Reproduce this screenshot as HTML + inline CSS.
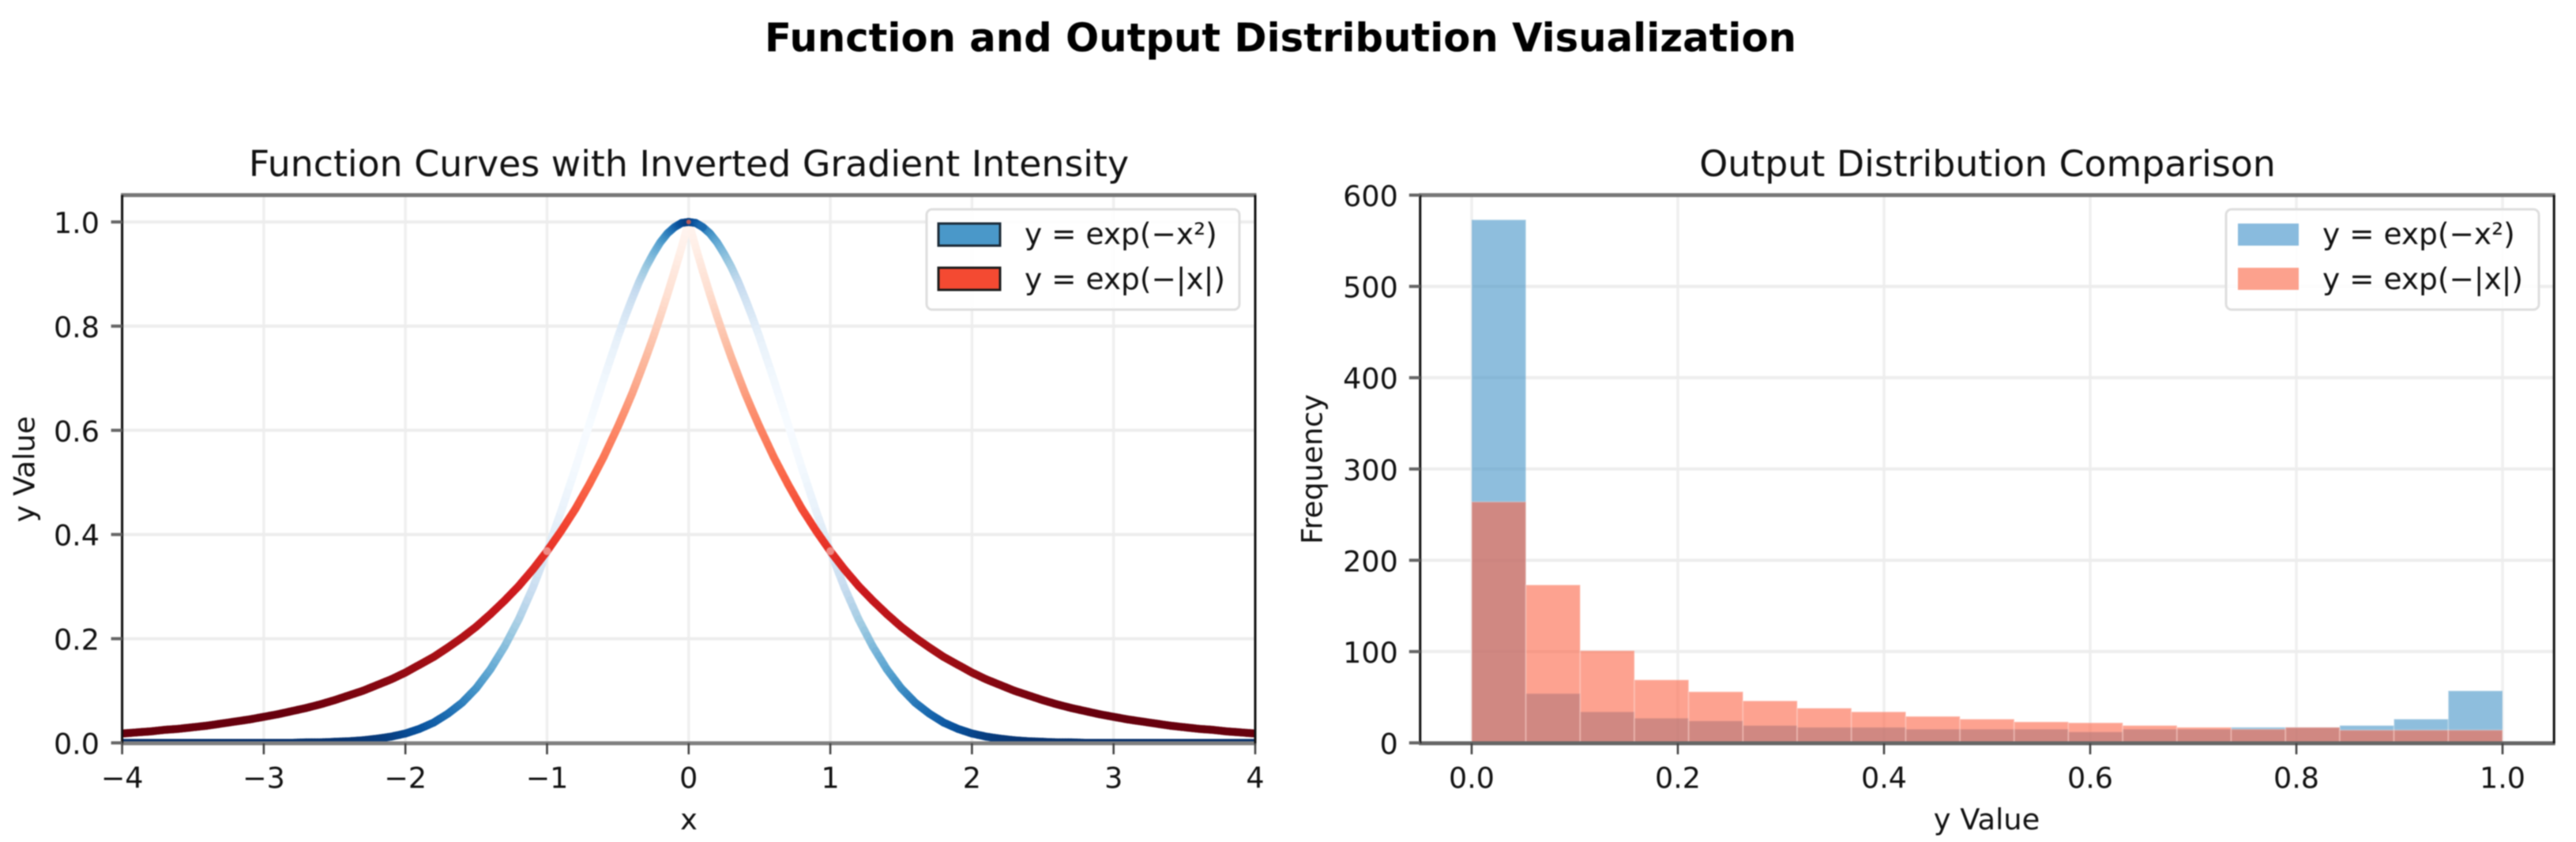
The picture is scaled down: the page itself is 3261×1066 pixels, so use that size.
<!DOCTYPE html>
<html lang="en">
<head>
<meta charset="utf-8">
<title>Function and Output Distribution Visualization</title>
<style>
html,body{margin:0;padding:0;background:#fff}
body{width:3261px;height:1066px;overflow:hidden}
svg{display:block;font-family:"DejaVu Sans","Liberation Sans",sans-serif;fill:#111;filter:blur(0.7px)}
</style>
</head>
<body>
<svg id="figure" xmlns="http://www.w3.org/2000/svg" width="3261" height="1066" viewBox="0 0 3261 1066">
<defs>
<clipPath id="clip-left"><rect x="154.6" y="247" width="1434.4" height="695"/></clipPath>
<clipPath id="clip-right"><rect x="1797.8" y="247" width="1435.4" height="695"/></clipPath>
</defs>
<rect width="3261" height="1066" fill="#fff"/>
<text x="1621" y="65" text-anchor="middle" font-size="49.7" font-weight="700" fill="#000">Function and Output Distribution Visualization</text>

<g id="left-axes">
<g id="left-grid"></g>
<g id="left-curves" clip-path="url(#clip-left)"></g>
<g id="left-frame"></g>
<g id="left-ticks"></g>
<text x="872" y="223" text-anchor="middle" font-size="45.8">Function Curves with Inverted Gradient Intensity</text>
<text x="872" y="1050" text-anchor="middle" font-size="36.8">x</text>
<text transform="translate(43.5 594) rotate(-90)" text-anchor="middle" font-size="36.8">y Value</text>
<g>
<rect x="1173" y="265" width="396" height="127" rx="7" fill="#fff" fill-opacity="0.85" stroke="#dedede" stroke-width="3"/>
<rect x="1188" y="283" width="78" height="28" fill="#4a98c9" stroke="#1c2b38" stroke-width="3"/>
<text x="1297" y="309" font-size="37.5">y = exp(−x²)</text>
<rect x="1188" y="339" width="78" height="28" fill="#f44a32" stroke="#1c1c1c" stroke-width="3"/>
<text x="1297" y="366" font-size="37.5">y = exp(−|x|)</text>
</g>
</g>

<g id="right-axes">
<g id="right-grid"></g>
<g id="right-bars" clip-path="url(#clip-right)"></g>
<g id="right-frame"></g>
<g id="right-ticks"></g>
<text x="2516" y="223" text-anchor="middle" font-size="45.8">Output Distribution Comparison</text>
<text x="2515" y="1050" text-anchor="middle" font-size="36.8">y Value</text>
<text transform="translate(1673.5 594) rotate(-90)" text-anchor="middle" font-size="36.8">Frequency</text>
<g>
<rect x="2818" y="265" width="396" height="127" rx="7" fill="#fff" fill-opacity="0.85" stroke="#dedede" stroke-width="3"/>
<rect x="2833" y="283" width="77" height="28" fill="#89bbde"/>
<text x="2940" y="309" font-size="37.5">y = exp(−x²)</text>
<rect x="2833" y="339" width="77" height="28" fill="#fca18d"/>
<text x="2940" y="366" font-size="37.5">y = exp(−|x|)</text>
</g>
</g>
</svg>

<script>
/* ---------- left chart data ---------- */
const curveX = [-4,-3.9,-3.8,-3.7,-3.6,-3.5,-3.4,-3.3,-3.2,-3.1,-3,-2.9,-2.8,-2.7,-2.6,-2.5,-2.4,-2.3,-2.2,-2.1,-2,-1.9,-1.8,-1.7,-1.6,-1.5,-1.4,-1.3,-1.2,-1.1,-1,-0.9,-0.8,-0.7,-0.6,-0.5,-0.45,-0.4,-0.35,-0.3,-0.25,-0.2,-0.15,-0.1,-0.05,0,0.05,0.1,0.15,0.2,0.25,0.3,0.35,0.4,0.45,0.5,0.6,0.7,0.8,0.9,1,1.1,1.2,1.3,1.4,1.5,1.6,1.7,1.8,1.9,2,2.1,2.2,2.3,2.4,2.5,2.6,2.7,2.8,2.9,3,3.1,3.2,3.3,3.4,3.5,3.6,3.7,3.8,3.9,4];
const gaussianValues = [0,0,0,0,0,0,0,0,0,0,0,0,0,0.001,0.001,0.002,0.003,0.005,0.008,0.012,0.018,0.027,0.039,0.056,0.077,0.105,0.141,0.185,0.237,0.298,0.368,0.445,0.527,0.613,0.698,0.779,0.817,0.852,0.885,0.914,0.939,0.961,0.978,0.990,0.998,1,0.998,0.990,0.978,0.961,0.939,0.914,0.885,0.852,0.817,0.779,0.698,0.613,0.527,0.445,0.368,0.298,0.237,0.185,0.141,0.105,0.077,0.056,0.039,0.027,0.018,0.012,0.008,0.005,0.003,0.002,0.001,0.001,0,0,0,0,0,0,0,0,0,0,0,0,0];
const laplaceValues = [0.018,0.020,0.022,0.025,0.027,0.030,0.033,0.037,0.041,0.045,0.050,0.055,0.061,0.067,0.074,0.082,0.091,0.100,0.111,0.122,0.135,0.150,0.165,0.183,0.202,0.223,0.247,0.273,0.301,0.333,0.368,0.407,0.449,0.497,0.549,0.607,0.638,0.670,0.705,0.741,0.779,0.819,0.861,0.905,0.951,1,0.951,0.905,0.861,0.819,0.779,0.741,0.705,0.670,0.638,0.607,0.549,0.497,0.449,0.407,0.368,0.333,0.301,0.273,0.247,0.223,0.202,0.183,0.165,0.150,0.135,0.122,0.111,0.100,0.091,0.082,0.074,0.067,0.061,0.055,0.050,0.045,0.041,0.037,0.033,0.030,0.027,0.025,0.022,0.020,0.018];
const leftXTicks = [-4,-3,-2,-1,0,1,2,3,4];
const leftXTickLabels = ['−4','−3','−2','−1','0','1','2','3','4'];
const leftYTicks = [0,0.2,0.4,0.6,0.8,1];
const leftYTickLabels = ['0.0','0.2','0.4','0.6','0.8','1.0'];

/* ---------- right chart data ---------- */
const binEdges = [0,0.0526,0.1053,0.1579,0.2105,0.2632,0.3158,0.3684,0.4211,0.4737,0.5263,0.5789,0.6316,0.6842,0.7368,0.7895,0.8421,0.8947,0.9474,1];
const gaussianCounts = [573,54,34,27,24,19,17,17,15,15,15,12,15,15,17,17,19,26,57];
const laplaceCounts = [264,173,101,69,56,46,38,34,29,26,23,22,19,17,15,17,14,14,14];
const rightXTicks = [0,0.2,0.4,0.6,0.8,1];
const rightXTickLabels = ['0.0','0.2','0.4','0.6','0.8','1.0'];
const rightYTicks = [0,100,200,300,400,500,600];
const rightYTickLabels = ['0','100','200','300','400','500','600'];

/* ---------- colormaps ---------- */
const blueStops = ['#f7fbff','#deebf7','#c6dbef','#9ecae1','#6baed6','#4292c6','#2171b5','#08519c','#08306b'];
const redStops = ['#fff5f0','#fee0d2','#fcbba1','#fc9272','#fb6a4a','#ef3b2c','#cb181d','#a50f15','#67000d'];

/* ---------- axis functions ---------- */
function xLeft(v){ return 154.6 + (v + 4) * 179.3; }
function yLeft(v){ return 940.5 - v * 659.5; }
function xRight(v){ return 1863 + v * 1305; }
function yRight(v){ return 940.5 - v * 1.1558; }

const NS = 'http://www.w3.org/2000/svg';
function make(parent, tag, attrs, text){
  const el = document.createElementNS(NS, tag);
  for (const k in attrs) el.setAttribute(k, attrs[k]);
  if (text !== undefined) el.textContent = text;
  parent.appendChild(el);
  return el;
}
function rgb(hex){ return [1,3,5].map(i => parseInt(hex.substr(i,2),16)); }
function colormap(stops, t){
  t = Math.max(0, Math.min(1, t));
  const p = t * (stops.length - 1), i = Math.min(stops.length - 2, Math.floor(p)), f = p - i;
  const a = rgb(stops[i]), b = rgb(stops[i + 1]);
  return 'rgb(' + a.map((c, k) => Math.round(c + (b[k] - c) * f)).join(',') + ')';
}

function drawCurve(parent, xs, ys, stops, name, gain){
  const g = make(parent, 'g', {});
  
  
  const peakSegments = [];
  const slope = ys.map((y, i) => {
    const l = i > 0 ? Math.abs(y - ys[i - 1]) / (xs[i] - xs[i - 1]) : null;
    const r = i < ys.length - 1 ? Math.abs(ys[i + 1] - y) / (xs[i + 1] - xs[i]) : null;
    return l === null ? r : r === null ? l : (l + r) / 2;
  });
  const maxSlope = Math.max.apply(null, slope);
  const top = Math.max.apply(null, ys);
  const pieces = 5;
  for (let i = 0; i < xs.length - 1; i++) {
    for (let p = 0; p < pieces; p++) {
      const a = p / pieces, b = (p + 1) / pieces, m = (a + b) / 2;
      const s = slope[i] + (slope[i + 1] - slope[i]) * m;
      const seg = make(g, 'line', {
        x1: xLeft(xs[i] + (xs[i + 1] - xs[i]) * a), y1: yLeft(ys[i] + (ys[i + 1] - ys[i]) * a),
        x2: xLeft(xs[i] + (xs[i + 1] - xs[i]) * b), y2: yLeft(ys[i] + (ys[i + 1] - ys[i]) * b),
        stroke: colormap(stops, (1 - s / maxSlope) * gain), 'stroke-width': 10, 'stroke-linecap': 'round'
      });
      
      
      if (ys[i] >= top - 0.01 && ys[i + 1] >= top - 0.01) peakSegments.push(seg);
    }
  }
  return peakSegments;
}

function drawBars(parent, counts, fill, name){
  const g = make(parent, 'g', {});
  
  
  counts.forEach((c, i) => {
    const x0 = xRight(binEdges[i]), x1 = xRight(binEdges[i + 1]), y = yRight(c);
    const bar = make(g, 'rect', {
      x: x0, y: y, width: x1 - x0, height: yRight(0) - y,
      fill: fill, 'fill-opacity': 0.6, stroke: '#fff', 'stroke-opacity': 0.2, 'stroke-width': 2
    });
    
    
  });
}

function drawAxes(o){
  const L = o.left, R = o.right, T = 247, B = 941;
  o.xTicks.forEach(v => {
    const ln = make(o.grid, 'line', {x1: o.x(v), x2: o.x(v), y1: T, y2: B, stroke: '#efefef', 'stroke-width': 3.5});
    
    
  });
  o.yTicks.forEach(v => {
    const ln = make(o.grid, 'line', {x1: L, x2: R, y1: o.y(v), y2: o.y(v), stroke: '#ededed', 'stroke-width': 4});
    
    
  });
  const sides = [
    ['top', L - 1.5, T, R + 1.5, T, '#777', 5],
    ['bottom', L - 1.5, B, R + 1.5, B, o.bottomColor, 5],
    ['left', L, T, L, B, '#111', 3],
    ['right', R, T, R, B, '#111', 3]
  ];
  sides.forEach(s => {
    const sp = make(o.frame, 'line', {x1: s[1], y1: s[2], x2: s[3], y2: s[4], stroke: s[5], 'stroke-width': s[6]});
    
    
  });
  o.xTicks.forEach((v, i) => {
    const t = make(o.ticks, 'line', {x1: o.x(v), x2: o.x(v), y1: B, y2: B + 14, stroke: '#444', 'stroke-width': 2.6});
    
    
    const lab = make(o.ticks, 'text', {x: o.x(v), y: 997.5, 'text-anchor': 'middle', 'font-size': 36.5}, o.xLabels[i]);
    
    
  });
  o.yTicks.forEach((v, i) => {
    const t = make(o.ticks, 'line', {x1: L - 14, x2: L, y1: o.y(v), y2: o.y(v), stroke: '#666', 'stroke-width': 4});
    
    
    const lab = make(o.ticks, 'text', {x: L - o.labelGap, y: o.y(v) + 14, 'text-anchor': 'end', 'font-size': 36.5}, o.yLabels[i]);
    
    
  });
}

drawAxes({prefix:'left', left:154.6, right:1589, x:xLeft, y:yLeft, xTicks:leftXTicks, yTicks:leftYTicks, xLabels:leftXTickLabels, yLabels:leftYTickLabels, labelGap:28.6, bottomColor:'#808080',
  grid:document.getElementById('left-grid'), frame:document.getElementById('left-frame'), ticks:document.getElementById('left-ticks')});
drawAxes({prefix:'right', left:1797.8, right:3233.2, x:xRight, y:yRight, xTicks:rightXTicks, yTicks:rightYTicks, xLabels:rightXTickLabels, yLabels:rightYTickLabels, labelGap:28, bottomColor:'#666',
  grid:document.getElementById('right-grid'), frame:document.getElementById('right-frame'), ticks:document.getElementById('right-ticks')});

const curvesLayer = document.getElementById('left-curves');
const gaussianPeak = drawCurve(curvesLayer, curveX, gaussianValues, blueStops, 'gaussian-curve', 1);
drawCurve(curvesLayer, curveX, laplaceValues, redStops, 'laplace-curve', 1.06);
/* the dark crest of the blue curve sits above the pale tip of the red one */
gaussianPeak.forEach(seg => curvesLayer.appendChild(seg));
curveX.forEach((x, i) => {
  if (gaussianValues[i] === laplaceValues[i]) {
    const mark = make(curvesLayer, 'circle', {
      cx: xLeft(x), cy: yLeft(laplaceValues[i]), r: x === 0 ? 3 : 5,
      fill: x === 0 ? '#c9594f' : '#f6d6d2', 'fill-opacity': x === 0 ? 0.9 : 0.55
    });
    
    
  }
});

const barsLayer = document.getElementById('right-bars');
drawBars(barsLayer, gaussianCounts, '#4292c6', 'gaussian-histogram');
drawBars(barsLayer, laplaceCounts, '#fb6446', 'laplace-histogram');
</script>
</body>
</html>
